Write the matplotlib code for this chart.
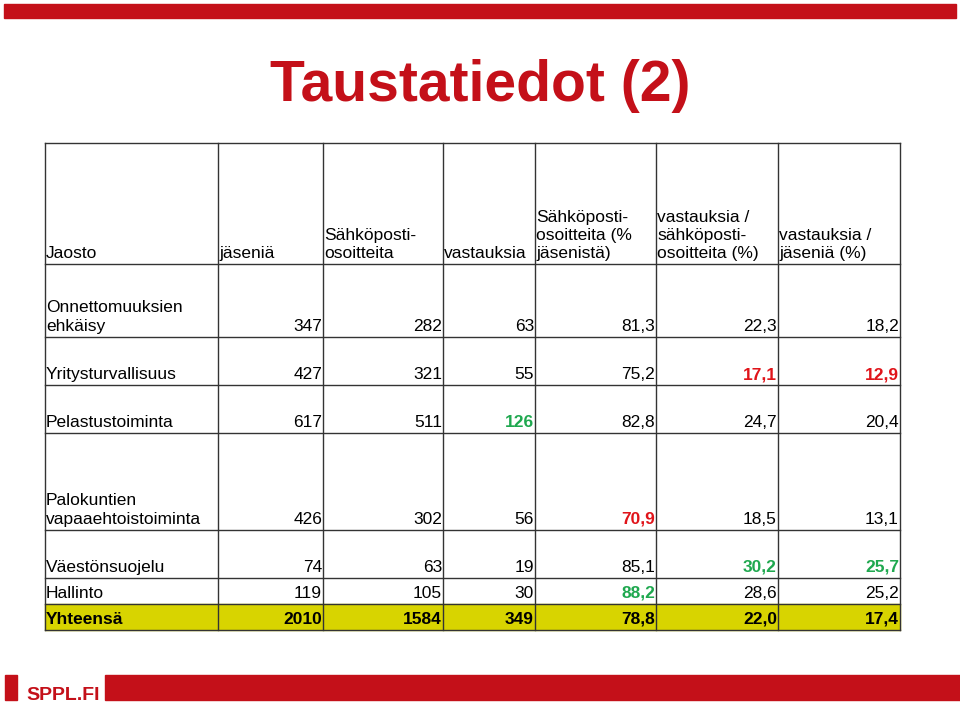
import matplotlib
matplotlib.use("Agg")
import matplotlib.pyplot as plt
from matplotlib.patches import Rectangle

title = "Taustatiedot (2)"
headers = ["Jaosto", "jäseniä", "Sähköposti-\nosoitteita", "vastauksia",
           "Sähköposti-\nosoitteita (%\njäsenistä)", "vastauksia /\nsähköposti-\nosoitteita (%)",
           "vastauksia /\njäseniä (%)"]
jaostot = ["Onnettomuuksien\nehkäisy", "Yritysturvallisuus", "Pelastustoiminta",
           "Palokuntien\nvapaaehtoistoiminta", "Väestönsuojelu", "Hallinto", "Yhteensä"]
jasenia = ["347", "427", "617", "426", "74", "119", "2010"]
sposti = ["282", "321", "511", "302", "63", "105", "1584"]
vastauksia = ["63", "55", "126", "56", "19", "30", "349"]
sposti_pct = ["81,3", "75,2", "82,8", "70,9", "85,1", "88,2", "78,8"]
vast_sposti_pct = ["22,3", "17,1", "24,7", "18,5", "30,2", "28,6", "22,0"]
vast_jasen_pct = ["18,2", "12,9", "20,4", "13,1", "25,7", "25,2", "17,4"]
red_cells = {(1, 5), (1, 6), (3, 4)}
green_cells = {(2, 3), (4, 5), (4, 6), (5, 4)}

RED = "#C41019"
TRED = "#E0141A"
GREEN = "#1FA84F"

fig = plt.figure(figsize=(9.6, 7.06), dpi=100)
ax = fig.add_axes([0, 0, 1, 1])
ax.set_xlim(0, 960); ax.set_ylim(706, 0); ax.axis("off")

ax.add_patch(Rectangle((4, 4), 952, 14, color=RED))
ax.add_patch(Rectangle((5, 675), 12, 25, color=RED))
ax.add_patch(Rectangle((105, 675), 855, 25, color=RED))
ax.text(26, 700, "SPPL.FI", color=RED, fontsize=14, fontweight="bold",
        family="Liberation Sans", va="baseline", ha="left")

ax.text(480, 86, title, color=RED, fontsize=41, fontweight="bold",
        family="Liberation Sans", ha="center", va="center")

xs = [45, 218, 323, 443, 535, 656, 778, 900]
ys = [143, 264, 337, 385, 433, 530, 578, 604, 630]

ax.add_patch(Rectangle((xs[0], ys[-2]), xs[-1] - xs[0], ys[-1] - ys[-2], color="#D8D400", zorder=0))

for x in xs:
    ax.plot([x, x], [ys[0], ys[-1]], color="#333333", lw=1)
for y in ys:
    ax.plot([xs[0], xs[-1]], [y, y], color="#333333", lw=1)

fs = 12.5
fam = "Liberation Sans"
for c, h in enumerate(headers):
    ax.text(xs[c] + 1, ys[1] - 3, h, fontsize=fs, family=fam, ha="left", va="bottom",
            linespacing=1.25)

cols = [jasenia, sposti, vastauksia, sposti_pct, vast_sposti_pct, vast_jasen_pct]
for r in range(len(jaostot)):
    yb = ys[r + 2] - 3
    bold = r == len(jaostot) - 1
    fw = "bold" if bold else "normal"
    ax.text(xs[0] + 1, yb, jaostot[r], fontsize=fs, family=fam, ha="left", va="bottom",
            fontweight=fw, linespacing=1.3)
    for c, col in enumerate(cols):
        color = "black"
        if (r, c + 1) in red_cells:
            color = TRED
        elif (r, c + 1) in green_cells:
            color = GREEN
        cfw = "bold" if (bold or color != "black") else "normal"
        ax.text(xs[c + 2] - 1, yb, col[r], fontsize=fs, family=fam, ha="right",
                va="bottom", color=color, fontweight=cfw)

fig.savefig("out.png", dpi=100)
